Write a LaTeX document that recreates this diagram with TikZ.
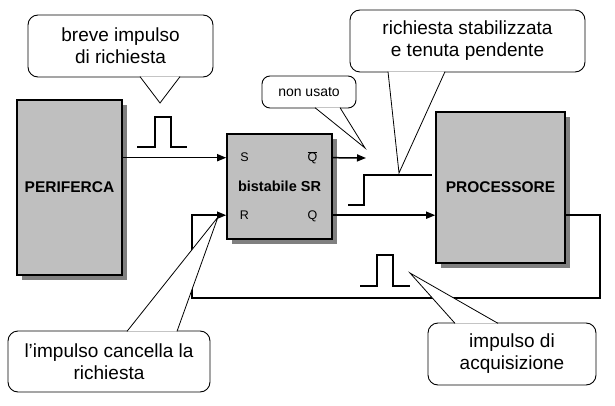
\documentclass[tikz,border=0pt]{standalone}
\usepackage{fontspec}
\setmainfont{Liberation Sans}
\usetikzlibrary{arrows.meta,shadows}

\tikzset{
    unit/.style={draw,line width=1.6pt,fill=gray!50,font=\fontsize{15.5}{18}\selectfont\bfseries,
        drop shadow={shadow xshift=5pt,shadow yshift=-5pt,fill=gray,opacity=1}},
    port/.style={anchor=base,inner sep=0pt,font=\fontsize{12.5}{14}\selectfont},
    wire/.style={line width=1.5pt,-{Triangle[length=9pt,width=7pt]}},
    sig/.style={line width=1.3pt},
    bubble/.style={draw,line width=0.9pt,fill=white,rounded corners=10pt,align=center,
        font=\fontsize{19}{22}\selectfont},
    tail/.style={draw,line width=0.8pt,fill=white,line join=miter}
}

\begin{document}
\begin{tikzpicture}[x=1pt,y=-1pt]
    \useasboundingbox (0,0) rectangle (615,406);
    \node[unit,minimum width=105pt,minimum height=175pt] (perif) at (69.5,187.5) {PERIFERCA};
    \node[unit,minimum width=105pt,minimum height=105pt,font=\fontsize{14.5}{17}\selectfont\bfseries] (ff) at (279.5,186.5) {bistabile SR};
    \node[unit,minimum width=129pt,minimum height=151pt] (cpu) at (500.5,187.5) {PROCESSORE};
    \node[port] (s) at (244.5,162) {S};
    \node[port] (r) at (244.5,219.5) {R};
    \node[port] (nq) at (312.5,162) {\(\overline{\mbox{Q}}\)};
    \node[port] (q) at (312.5,219.5) {Q};
    \coordinate (nqend) at (366,158);
    \coordinate (loopr) at (600,298);
    \coordinate (loopl) at (192,298);

    \draw[wire] (perif.east |- s) -- (ff.west |- s);
    \draw[wire] (ff.east |- s) -- (nqend);
    \draw[wire] (ff.east |- r) -- (cpu.west |- r);
    \draw[wire] (cpu.east |- r) -| (loopr) -- (loopl) |- (ff.west |- r);

    \draw[sig] (137,147) -- ++(18,0) -- ++(0,-30) -- ++(16,0) -- ++(0,30) -- ++(16,0);
    \draw[sig] (348,205) -- ++(16,0) -- ++(0,-30) -- ++(68,0);
    \draw[sig] (360,286) -- ++(17,0) -- ++(0,-31) -- ++(16,0) -- ++(0,31) -- ++(17,0);

    \node[bubble,minimum width=185pt,minimum height=62pt] (b1) at (120.5,46) {breve impulso\\di richiesta};
    \node[bubble,minimum width=94pt,minimum height=32pt,rounded corners=8pt,font=\fontsize{14}{16}\selectfont] (b2) at (309,92) {non usato};
    \node[bubble,minimum width=235pt,minimum height=62pt] (b3) at (467.5,41) {richiesta stabilizzata\\e tenuta pendente};
    \node[bubble,minimum width=202pt,minimum height=61pt] (b4) at (109,361.5) {l’impulso cancella la\\richiesta};
    \node[bubble,minimum width=168pt,minimum height=62pt] (b5) at (512,354) {impulso di\\acquisizione};
    \coordinate (t1) at (160,103);
    \coordinate (t2) at (365,148);
    \coordinate (t3) at (399,173);
    \coordinate (t4) at (218,217);
    \coordinate (t5) at (410,273);
    \path[tail] ([shift={(19.5,-0.8)}]b1.south) -- (t1) -- ([shift={(59.5,-0.8)}]b1.south);
    \path[tail] ([shift={(6,-0.8)}]b2.south) -- (t2) -- ([shift={(31,-0.8)}]b2.south);
    \path[tail] ([shift={(-79.5,-0.8)}]b3.south) -- (t3) -- ([shift={(-22.5,-0.8)}]b3.south);
    \path[tail] ([shift={(18,0.8)}]b4.north) -- (t4) -- ([shift={(68,0.8)}]b4.north);
    \path[tail] ([shift={(-57,0.8)}]b5.north) -- (t5) -- ([shift={(-14,0.8)}]b5.north);
\end{tikzpicture}
\end{document}
